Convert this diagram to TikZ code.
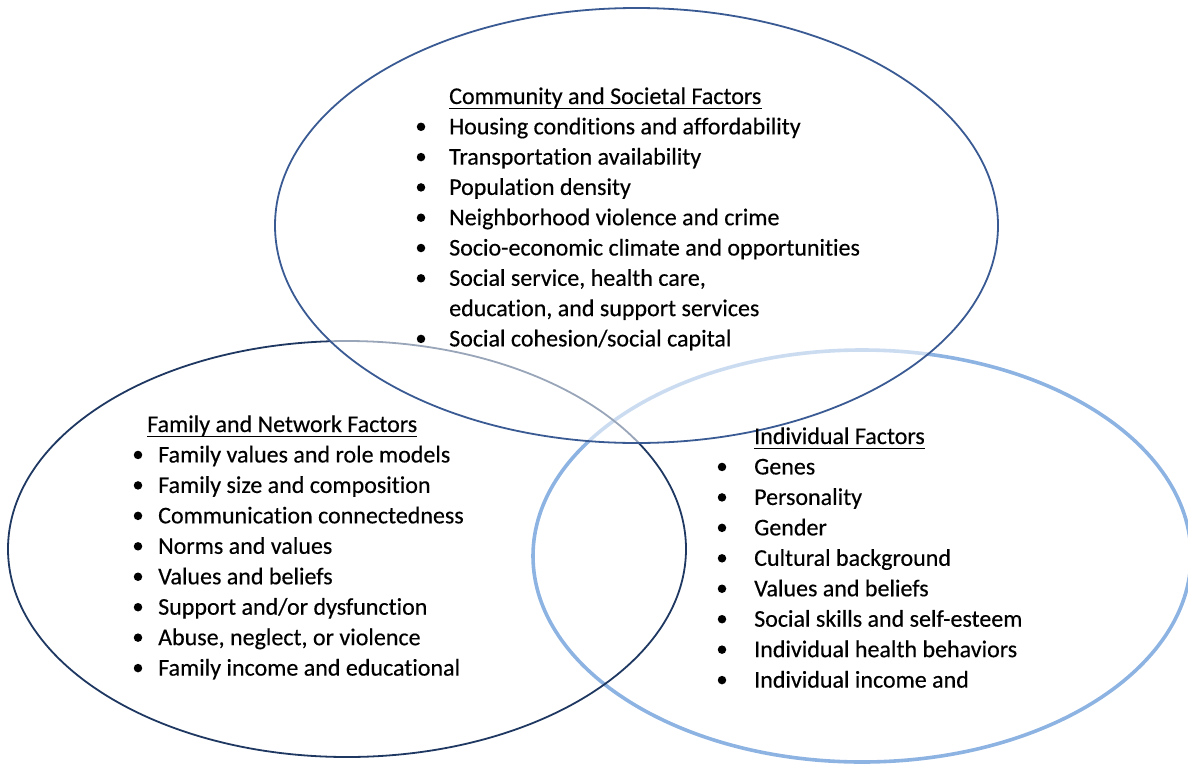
\documentclass[tikz,border=0pt]{standalone}
\usepackage{fontspec}
\setmainfont{Carlito}[Ligatures=NoCommon, RawFeature={-liga;-clig;-dlig}, FakeBold=0.35]
\usetikzlibrary{shapes.geometric}
\definecolor{topc}{RGB}{58,90,148}
\definecolor{leftc}{RGB}{30,56,98}
\definecolor{rightc}{RGB}{141,179,226}
\begin{document}
\begin{tikzpicture}[x=1pt,y=-1pt,
  item/.style={anchor=base west, inner sep=0pt, font=\fontsize{24.0}{29}\selectfont},
  dot/.style={circle, fill=black, inner sep=0pt, minimum size=8.5pt},
  uline/.style={line width=1.4pt, black},
  venn/.style={shape=ellipse, inner sep=0pt}]
\useasboundingbox (0,0) rectangle (1188,763);
\begin{scope}
\clip (0,0) rectangle (1188,763);
% ellipses
\node (eright) [venn, draw=rightc, line width=3.6pt, minimum width=658pt, minimum height=412pt] at (862,556) {};
\node (eleft) [venn, draw=leftc, line width=1.8pt, minimum width=678pt, minimum height=416pt] at (347,549) {};
\node (etop) [venn, draw=topc, line width=1.8pt, fill=white, fill opacity=0.55, minimum width=723pt, minimum height=435pt] at (636.5,225.5) {};
\end{scope}
% Community group
\node (h1) [item] at (449,104) {Community and Societal Factors};
\draw[uline] ([yshift=-4.5pt]h1.base west) -- ([yshift=-4.5pt]h1.base east);
\foreach \t/\b [count=\i] in {{Housing conditions and affordability}/1,
  {Transportation availability}/1, {Population density}/1,
  {Neighborhood violence and crime}/1, {Socio-economic climate and opportunities}/1,
  {Social service, health care,}/1, {education, and support services}/0,
  {Social cohesion/social capital}/1}{
  \node (c\i) [item] at (449,{104+\i*30.3}) {\t};
  \ifnum\b=1 \node (cb\i) [dot] at (421,{104+\i*30.3-7.5}) {}; \fi
}
% Family group
\node (h2) [item] at (147,432) {Family and Network Factors};
\draw[uline] ([yshift=-4.5pt]h2.base west) -- ([yshift=-4.5pt]h2.base east);
\foreach \t [count=\i] in {{Family values and role models},
  {Family size and composition}, {Communication connectedness},
  {Norms and values}, {Values and beliefs}, {Support and/or dysfunction},
  {Abuse, neglect, or violence}, {Family income and educational}}{
  \node (f\i) [item] at (158,{432+\i*30.45}) {\t};
  \node (fb\i) [dot] at (138,{432+\i*30.45-7.5}) {};
}
% Individual group
\node (h3) [item] at (754,444) {Individual Factors};
\draw[uline] ([yshift=-4.5pt]h3.base west) -- ([yshift=-4.5pt]h3.base east);
\foreach \t [count=\i] in {{Genes}, {Personality}, {Gender},
  {Cultural background}, {Values and beliefs}, {Social skills and self-esteem},
  {Individual health behaviors}, {Individual income and}}{
  \node (r\i) [item] at (754,{444+\i*30.45}) {\t};
  \node (rb\i) [dot] at (722,{444+\i*30.45-7.5}) {};
}
\end{tikzpicture}
\end{document}
